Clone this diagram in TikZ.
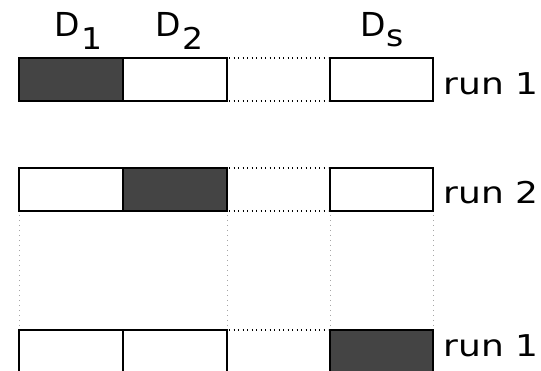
\documentclass[tikz,border=0pt]{standalone}
\usepackage{graphicx}
\usepackage{fontspec}
\setmainfont{DejaVu Sans}
\definecolor{cellfill}{HTML}{444444}
% column heading: letter with a lowered index
\newcommand{\colhead}[3]{{\fontsize{33}{38}\selectfont D}\kern#2\raisebox{-#3}{\scalebox{1.1}[1]{\fontsize{30}{34}\selectfont #1}}}
\newcommand{\runtext}[1]{\scalebox{1.2}[1]{\fontsize{30}{34}\selectfont #1}}
\begin{document}
\begin{tikzpicture}[x=1pt,y=-1pt,
  cell/.style={draw=black,line width=1.6pt},
  full/.style={cell,fill=cellfill},
  gap/.style={black,line width=1.3pt,dash pattern=on 1.3pt off 3.2pt},
  vgap/.style={gray!70,line width=1pt,dash pattern=on 1pt off 4pt},
  lbl/.style={anchor=base west,inner sep=0pt},
  runlbl/.style={anchor=base west,inner sep=0pt}]
\useasboundingbox (0,0) rectangle (541,371);
\clip (0,0) rectangle (541,371);

% column headers
\node[lbl] (h1) at (54.1,36.7) {\colhead{1}{1.9pt}{12.6pt}};
\node[lbl] (h2) at (155.1,36.7) {\colhead{2}{2.1pt}{12.6pt}};
\node[lbl] (hs) at (360.1,36.7) {\colhead{s}{0.5pt}{10pt}};

% row 1
\draw[full] (19,58) rectangle (123,101);
\draw[cell] (123,58) rectangle (227,101);
\draw[cell] (330,58) rectangle (433,101);
\draw[gap] (229,58) -- (328,58);
\draw[gap] (229,101) -- (328,101);
\node[runlbl] (r1) at (443.3,94.3) {\runtext{run 1}};

% row 2
\draw[cell] (19,168) rectangle (123,211);
\draw[full] (123,168) rectangle (227,211);
\draw[cell] (330,168) rectangle (433,211);
\draw[gap] (229,168) -- (328,168);
\draw[gap] (229,211) -- (328,211);
\node[runlbl] (r2) at (443.3,203.3) {\runtext{run 2}};

% vertical continuation lines
\foreach \xx in {19,227,330,433}
  \draw[vgap] (\xx,215) -- (\xx,328);

% last row
\draw[cell] (19,330) rectangle (123,380);
\draw[cell] (123,330) rectangle (227,380);
\draw[full] (330,330) rectangle (433,380);
\draw[gap] (229,330) -- (328,330);
\node[runlbl] (r3) at (443.3,356) {\runtext{run 1}};
\end{tikzpicture}
\end{document}
